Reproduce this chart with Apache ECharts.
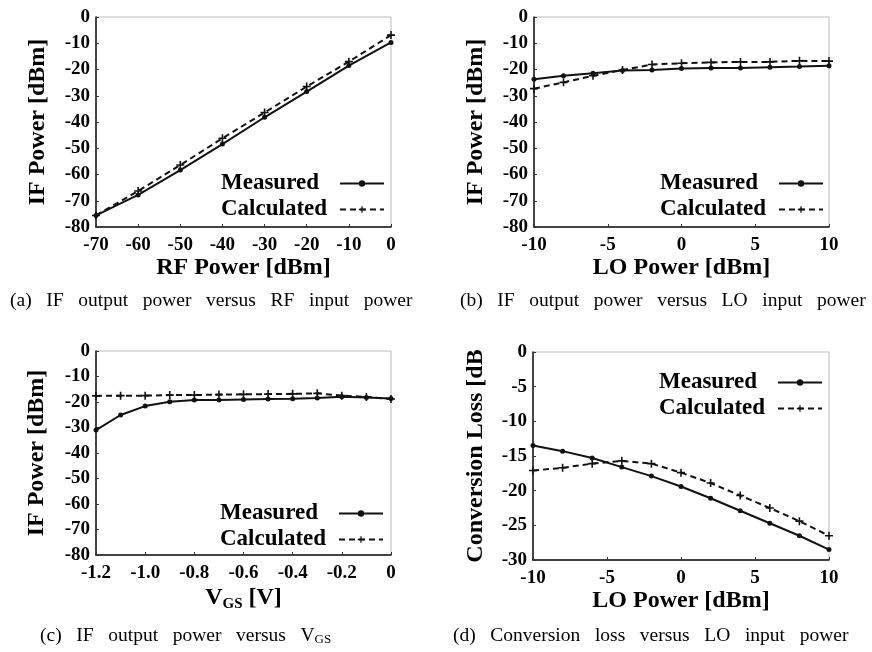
<!DOCTYPE html>
<html><head><meta charset="utf-8">
<script src="https://cdn.jsdelivr.net/npm/echarts@6/dist/echarts.min.js"></script>
<style>html,body{margin:0;padding:0;background:#fff}#c{width:872px;height:652px}</style>
</head><body><div id="c"></div>
<script>
// (a) IF power vs RF power
const rfPower = [-70, -60, -50, -40, -30, -20, -10, 0];
const aMeasured = [-75.6, -67.8, -58.3, -48.4, -38.2, -28.4, -18.5, -9.7];
const aCalculated = [-75.6, -66.3, -56.4, -46.2, -36.4, -26.5, -17.0, -6.9];
// (b) IF power vs LO power
const loPower = [-10, -8, -6, -4, -2, 0, 2, 4, 6, 8, 10];
const bMeasured = [-23.7, -22.4, -21.4, -20.4, -20.2, -19.6, -19.4, -19.4, -19.1, -18.9, -18.6];
const bCalculated = [-27.3, -24.9, -22.4, -20.2, -18.1, -17.6, -17.3, -17.1, -17.1, -16.7, -16.8];
// (c) IF power vs VGS
const vgs = [-1.2, -1.1, -1.0, -0.9, -0.8, -0.7, -0.6, -0.5, -0.4, -0.3, -0.2, -0.1, 0];
const cMeasured = [-31.0, -25.1, -21.6, -19.9, -19.2, -19.2, -19.0, -18.8, -18.7, -18.4, -17.9, -18.2, -18.6];
const cCalculated = [-17.6, -17.5, -17.5, -17.3, -17.3, -17.1, -17.0, -16.9, -16.8, -16.6, -17.5, -18.0, -18.8];
// (d) Conversion loss vs LO power
const dMeasured = [-13.5, -14.3, -15.3, -16.6, -17.9, -19.4, -21.1, -22.9, -24.7, -26.5, -28.5];
const dCalculated = [-17.1, -16.7, -16.1, -15.7, -16.1, -17.4, -18.9, -20.7, -22.5, -24.4, -26.5];

const legendNames = ['Measured', 'Calculated'];
const captions = [
  '(a)   IF   output   power   versus   RF   input   power',
  '(b)   IF   output   power   versus   LO   input   power',
  '(c)   IF   output   power   versus   V',
  '(d)   Conversion   loss   versus   LO   input   power'
];

const SERIF = '"Liberation Serif", "Times New Roman", serif';
const zip = (xs, ys) => xs.map((x, i) => [x, ys[i]]);
const plus = 'path://M4,0h2v4h4v2h-4v4h-2v-4h-4v-2h4z';

const grids = [
  {left: 96, top: 17, width: 295, height: 210},
  {left: 534, top: 17, width: 295, height: 210},
  {left: 96, top: 351, width: 295, height: 204},
  {left: 533, top: 352, width: 296, height: 208}
];

function xAx(i, min, max, interval, name, fmt) {
  return {
    type: 'value', gridIndex: i, min, max, interval,
    name, nameLocation: 'middle', nameGap: 28,
    nameTextStyle: {fontFamily: SERIF, fontWeight: 'bold', fontSize: 24, color: '#000',
      rich: {a: {fontFamily: SERIF, fontWeight: 'bold', fontSize: 24, color: '#000'},
             s: {fontFamily: SERIF, fontWeight: 'bold', fontSize: 15, color: '#000', padding: [14, 0, 0, 0]}}},
    axisLine: {show: true, onZero: false, lineStyle: {color: '#111', width: 1.5}},
    axisTick: {show: true, inside: true, length: 3, lineStyle: {color: '#333'}},
    splitLine: {show: false},
    axisLabel: {fontFamily: SERIF, fontWeight: 'bold', fontSize: 19, color: '#000', margin: 9,
      formatter: fmt || (v => String(v))}
  };
}
function yAx(i, min, max, interval, name, gap) {
  return {
    type: 'value', gridIndex: i, min, max, interval,
    name, nameLocation: 'middle', nameGap: gap || 46,
    nameTextStyle: {fontFamily: SERIF, fontWeight: 'bold', fontSize: 24, color: '#000'},
    axisLine: {show: true, onZero: false, lineStyle: {color: '#111', width: 1.5}},
    axisTick: {show: true, inside: true, length: 3, lineStyle: {color: '#333'}},
    splitLine: {show: false},
    axisLabel: {fontFamily: SERIF, fontWeight: 'bold', fontSize: 19, color: '#000', margin: 6}
  };
}
function ser(i, name, xs, ys) {
  const meas = name === 'Measured';
  return {
    type: 'line', name, xAxisIndex: i, yAxisIndex: i,
    data: zip(xs, ys),
    symbol: meas ? 'circle' : plus,
    symbolSize: meas ? 5 : 8,
    showSymbol: true,
    itemStyle: {color: '#111'},
    lineStyle: {color: '#111', width: 2, type: meas ? 'solid' : [6, 4]},
    animation: false
  };
}
function leg(left, top) {
  return {
    data: legendNames, orient: 'vertical', left, top, align: 'right',
    itemGap: 3, itemWidth: 44, itemHeight: 8, padding: 0,
    selectedMode: false,
    formatter: n => '{t|' + n + '}',
    textStyle: {fontFamily: SERIF, fontWeight: 'bold', fontSize: 23, color: '#000', lineHeight: 22,
      rich: {t: {fontFamily: SERIF, fontWeight: 'bold', fontSize: 23, color: '#000', width: 114, align: 'left', lineHeight: 22}}}
  };
}

const chart = echarts.init(document.getElementById('c'), null, {renderer: 'canvas'});
chart.setOption({
  backgroundColor: '#fff',
  animation: false,
  grid: grids.map(g => Object.assign({show: true, borderColor: '#bbb', borderWidth: 1, backgroundColor: 'transparent'}, g)),
  xAxis: [
    xAx(0, -70, 0, 10, 'RF Power [dBm]'),
    xAx(1, -10, 10, 5, 'LO Power [dBm]'),
    xAx(2, -1.2, 0, 0.2, '{a|V}{s|GS}{a| [V]}', v => (Math.abs(v) < 1e-9 ? '0' : v.toFixed(1))),
    xAx(3, -10, 10, 5, 'LO Power [dBm]')
  ],
  yAxis: [
    yAx(0, -80, 0, 10, 'IF Power [dBm]'),
    yAx(1, -80, 0, 10, 'IF Power [dBm]'),
    yAx(2, -80, 0, 10, 'IF Power [dBm]', 47),
    yAx(3, -30, 0, 5, 'Conversion Loss [dB', 45)
  ],
  legend: [leg(221, 172), leg(660, 172), leg(220, 502), leg(659, 371)],
  series: [
    ser(0, 'Measured', rfPower, aMeasured), ser(0, 'Calculated', rfPower, aCalculated),
    ser(1, 'Measured', loPower, bMeasured), ser(1, 'Calculated', loPower, bCalculated),
    ser(2, 'Measured', vgs, cMeasured), ser(2, 'Calculated', vgs, cCalculated),
    ser(3, 'Measured', loPower, dMeasured), ser(3, 'Calculated', loPower, dCalculated)
  ],
  graphic: [
    {type: 'text', left: 10, top: 291, style: {text: captions[0], font: '19.5px ' + SERIF, fill: '#000'}},
    {type: 'text', left: 460, top: 291, style: {text: captions[1], font: '19.5px ' + SERIF, fill: '#000'}},
    {type: 'text', left: 40, top: 626, style: {text: captions[2] + '{s|GS}', font: '19.5px ' + SERIF, fill: '#000',
      rich: {s: {font: '13px ' + SERIF, fill: '#000', padding: [8, 0, 0, 0]}}}},
    {type: 'text', left: 453, top: 626, style: {text: captions[3], font: '19.5px ' + SERIF, fill: '#000'}}
  ]
});
</script></body></html>
